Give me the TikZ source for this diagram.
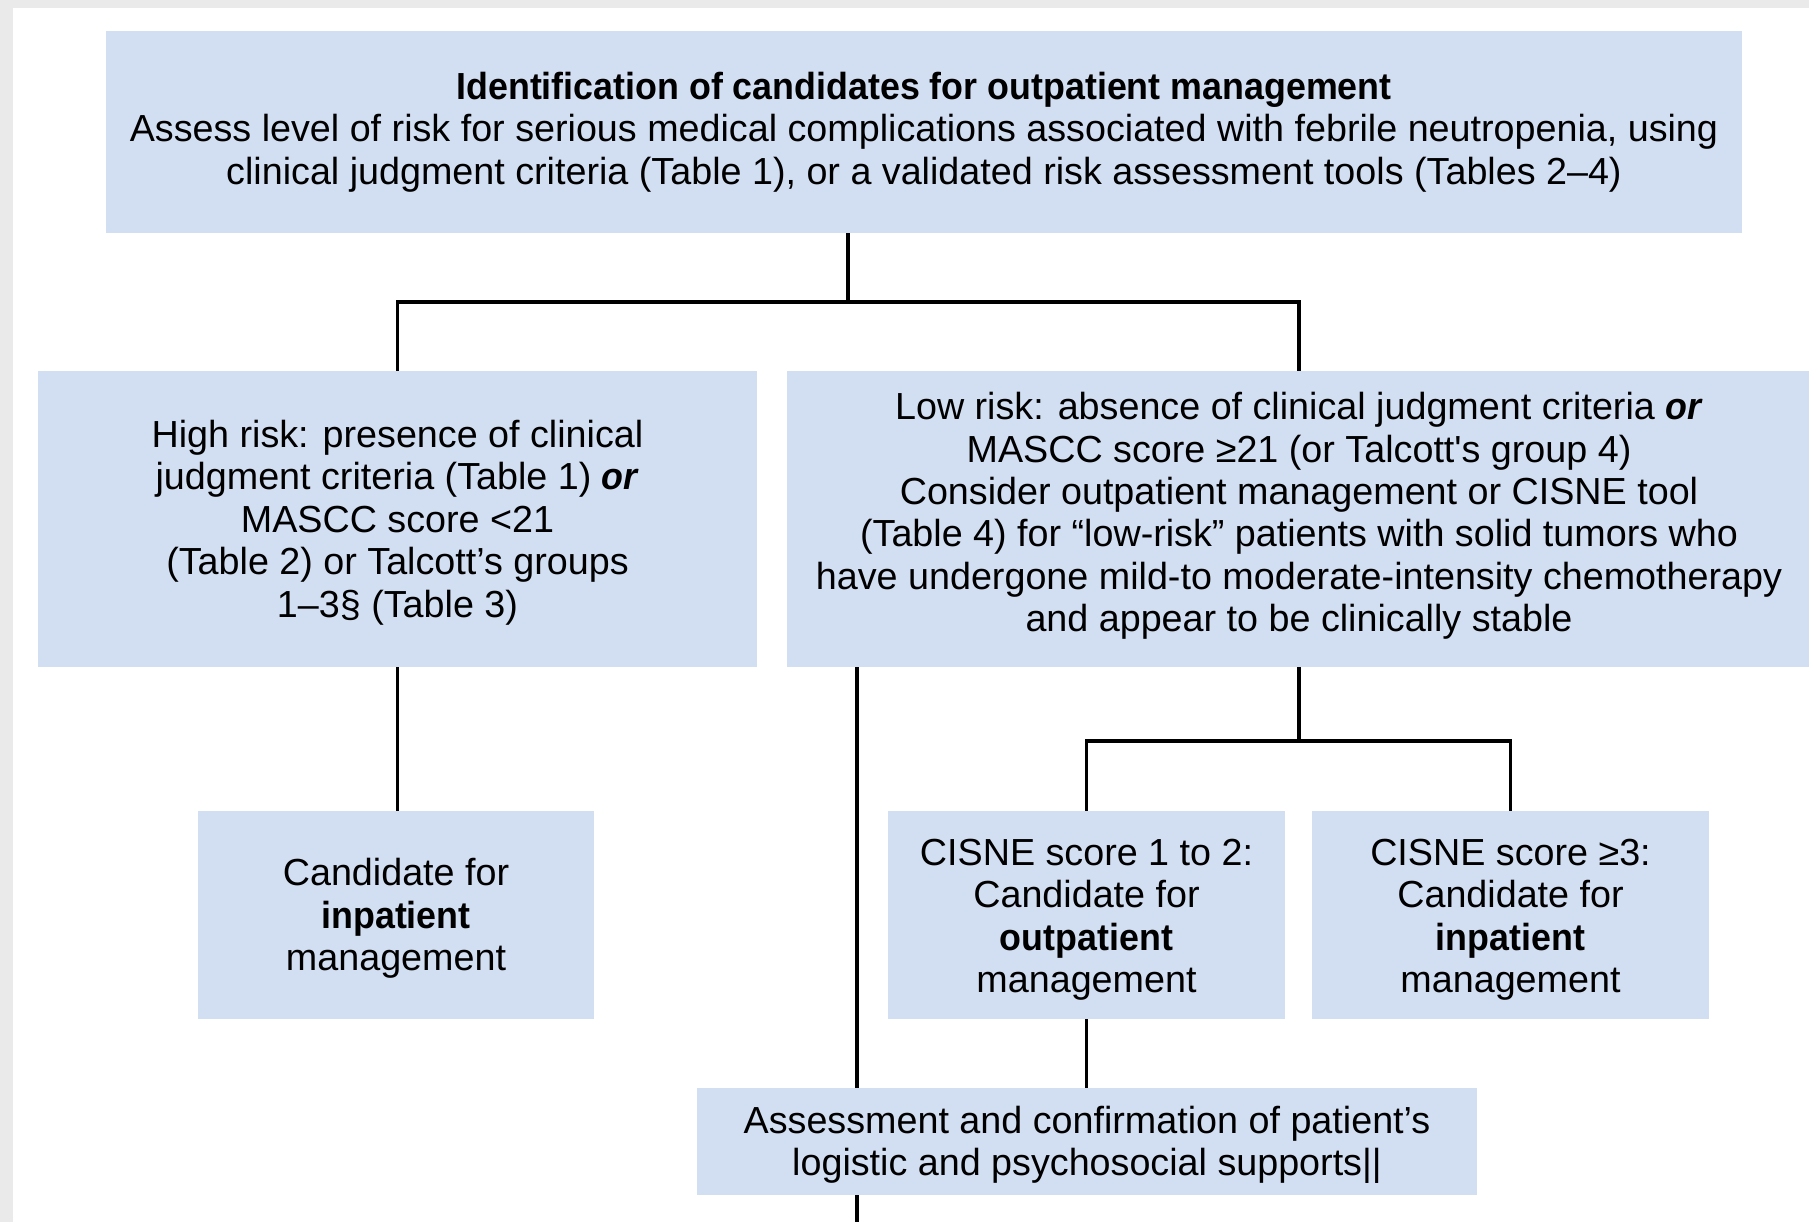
\documentclass[tikz,border=0pt]{standalone}
\usepackage{fontspec}
\setmainfont{Liberation Sans}[Ligatures=TeXOff,BoldFeatures={FakeStretch=0.95},BoldItalicFeatures={FakeStretch=0.95}]
\definecolor{boxblue}{HTML}{D2DEF1}
\definecolor{framegray}{HTML}{EAEAEA}
\newcommand{\tstrut}{\rule{0pt}{34.5pt}}
\begin{document}
\begin{tikzpicture}[x=1pt,y=-1pt,
  box/.style={fill=boxblue, inner sep=0pt, align=center,
    font=\fontsize{37.7}{42.4}\selectfont},
  conn/.style={line width=3.4pt, draw=black}]
\useasboundingbox (0,0) rectangle (1809,1222);
\fill[framegray] (0,0) rectangle (1809,1222);
\fill[white] (13,8) rectangle (1809,1222);

\node[box, minimum width=1636pt, minimum height=202pt] (top) at (924,132)
  {\textbf{Identification of candidates for outpatient management}\\
   Assess level of risk for serious medical complications associated with febrile neutropenia, using\\
   clinical judgment criteria (Table 1), or a validated risk assessment tools (Tables 2–4)};

\node[box, minimum width=719pt, minimum height=296pt] (high) at (397.5,519)
  {\tstrut High risk: presence of clinical\\
   judgment criteria (Table 1) \textbf{\textit{or}}\\
   MASCC score <21\\
   (Table 2) or Talcott’s groups\\
   1–3§ (Table 3)};

\node[box, minimum width=1024pt, minimum height=296pt] (low) at (1299,519)
  {Low risk: absence of clinical judgment criteria \textbf{\textit{or}}\\
   MASCC score ≥21 (or Talcott's group 4)\\
   Consider outpatient management or CISNE tool\\
   (Table 4) for “low-risk” patients with solid tumors who\\
   have undergone mild-to moderate-intensity chemotherapy\\
   and appear to be clinically stable\\[-28.4pt]\mbox{}};

\node[box, minimum width=396pt, minimum height=208pt] (cand) at (396,915)
  {\tstrut Candidate for\\ \textbf{inpatient}\\ management};

\node[box, minimum width=397pt, minimum height=208pt] (c12) at (1086.5,915)
  {\rule{0pt}{36pt}CISNE score 1 to 2:\\ Candidate for\\ \textbf{outpatient}\\ management};

\node[box, minimum width=397pt, minimum height=208pt] (c3) at (1510.5,915)
  {\rule{0pt}{36pt}CISNE score ≥3:\\ Candidate for\\ \textbf{inpatient}\\ management};

\node[box, minimum width=780pt, minimum height=107pt] (assess) at (1087,1141.5)
  {\tstrut Assessment and confirmation of patient’s\\ logistic and psychosocial supports||};

\coordinate (j1) at (848,302);
\coordinate (j2) at (1299,741);
\coordinate (k) at (857,0);
\coordinate (bot) at (857,1230);

\draw[conn] (j1 |- top.south) -- (j1);
\draw[conn] (high.north) |- (j1) -| (low.north);
\draw[conn] (high.south) -- (high.south |- cand.north);
\draw[conn] (low.south) -- (j2);
\draw[conn] (c12.north) |- (j2) -| (c3.north);
\draw[conn] (k |- low.south) -- (k |- assess.north);
\draw[conn] (c12.south) -- (c12.south |- assess.north);
\draw[conn] (k |- assess.south) -- (bot);
\end{tikzpicture}
\end{document}
